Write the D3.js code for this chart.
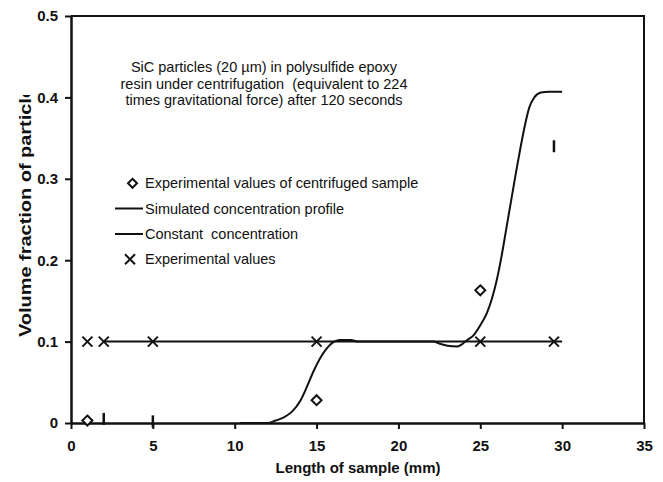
<!DOCTYPE html>
<html><head><meta charset="utf-8">
<script src="https://cdn.jsdelivr.net/npm/d3@7"></script>
<style>
body{margin:0;background:#fff}
svg{display:block}
text{font-family:"Liberation Sans",Arial,Helvetica,sans-serif;fill:#111}
</style>
</head><body>
<svg id="chart" width="663" height="482"></svg>
<script>
// ---- data ----
const xTickValues = [0, 5, 10, 15, 20, 25, 30, 35];
const yTickValues = [0, 0.1, 0.2, 0.3, 0.4, 0.5];
const yTickLabels = ["0", "0.1", "0.2", "0.3", "0.4", "0.5"];

const centrifugedX = [1, 15, 25];
const centrifugedY = [0.003, 0.028, 0.163];

const simulatedX = [10.3, 12.0, 12.5, 13.0, 13.5, 14.0, 14.4, 14.8, 15.2, 15.6, 16.0, 16.4, 17.1, 17.5, 22.1, 22.6, 23.0, 23.6, 23.9, 24.2, 24.6, 25.0, 25.4, 25.7, 26.0, 26.3, 26.6, 26.9, 27.2, 27.5, 27.75, 28.0, 28.3, 28.7, 29.2, 30.0];
const simulatedY = [0.0, 0.0, 0.003, 0.007, 0.014, 0.027, 0.044, 0.063, 0.079, 0.091, 0.099, 0.102, 0.102, 0.1, 0.1, 0.097, 0.095, 0.094, 0.097, 0.102, 0.108, 0.12, 0.135, 0.152, 0.175, 0.205, 0.24, 0.275, 0.31, 0.343, 0.368, 0.388, 0.4, 0.406, 0.407, 0.407];

const constantX = [2, 30];
const constantY = [0.1, 0.1];

const experimentalX = [1, 2, 5, 15, 25, 29.5];
const experimentalY = [0.1, 0.1, 0.1, 0.1, 0.1, 0.1];

const barX = [2, 5, 29.5];
const barY = [0.005, 0.002, 0.34];

const legendLabels = [
  "Experimental values of centrifuged sample",
  "Simulated concentration profile",
  "Constant  concentration",
  "Experimental values"
];
const annotationLines = [
  "SiC particles (20 \u00b5m) in polysulfide epoxy",
  "resin under centrifugation  (equivalent to 224",
  "times gravitational force) after 120 seconds"
];
const xTitle = "Length of sample (mm)";
const yTitle = "Volume fraction of particle";

// ---- chart ----
const ink = "#111";
const svg = d3.select("#chart");
const x = d3.scaleLinear().domain([0, 35]).range([71, 644]);
const y = d3.scaleLinear().domain([0, 0.5]).range([423, 16]);

// frame (top and right)
svg.append("path")
  .attr("d", `M${x(0)},${y(0.5)}H${x(35)}V${y(0)}`)
  .attr("fill", "none").attr("stroke", ink).attr("stroke-width", 2);

// axes
const xAxis = svg.append("g").attr("transform", `translate(0,${y(0)})`)
  .call(d3.axisBottom(x).tickValues(xTickValues).tickSize(6).tickSizeOuter(0).tickPadding(11).tickFormat(d => String(d)));
const yAxis = svg.append("g").attr("transform", `translate(${x(0)},0)`)
  .call(d3.axisLeft(y).tickValues(yTickValues).tickSize(6).tickSizeOuter(0).tickPadding(7).tickFormat((d, i) => yTickLabels[i]));
[xAxis, yAxis].forEach(g => {
  g.select(".domain").attr("stroke", ink).attr("stroke-width", 2.5);
  g.selectAll(".tick line").attr("stroke", ink).attr("stroke-width", 2);
  g.selectAll(".tick text").attr("fill", ink).style("font-size", "15px").style("font-weight", "bold")
    .style("font-family", '"Liberation Sans",Arial,sans-serif');
});

// constant concentration line
const line = d3.line().x(d => x(d[0])).y(d => y(d[1]));
svg.append("path").datum(constantX.map((v, i) => [v, constantY[i]]))
  .attr("d", line).attr("fill", "none").attr("stroke", ink).attr("stroke-width", 2);

// simulated profile
const curve = d3.line().x(d => x(d[0])).y(d => y(d[1])).curve(d3.curveMonotoneX);
svg.append("path").datum(simulatedX.map((v, i) => [v, simulatedY[i]]))
  .attr("d", curve).attr("fill", "none").attr("stroke", ink).attr("stroke-width", 2)
  .attr("stroke-linejoin", "round");

// markers
function drawX(g, cx, cy, r) {
  g.append("path").attr("d", `M${cx - r},${cy - r}L${cx + r},${cy + r}M${cx - r},${cy + r}L${cx + r},${cy - r}`)
    .attr("stroke", ink).attr("stroke-width", 2).attr("fill", "none");
}
function drawDiamond(g, cx, cy, r) {
  g.append("path").attr("d", `M${cx},${cy - r}L${cx + r},${cy}L${cx},${cy + r}L${cx - r},${cy}Z`)
    .attr("stroke", ink).attr("stroke-width", 2).attr("fill", "#fff");
}
const mk = svg.append("g");
experimentalX.forEach((v, i) => drawX(mk, x(v), y(experimentalY[i]), 5));
centrifugedX.forEach((v, i) => drawDiamond(mk, x(v), y(centrifugedY[i]), 5));
barX.forEach((v, i) => {
  mk.append("line").attr("x1", x(v)).attr("x2", x(v))
    .attr("y1", y(barY[i]) - 6).attr("y2", y(barY[i]) + 6)
    .attr("stroke", ink).attr("stroke-width", 2.5);
});

// annotation
const ann = svg.append("text").attr("text-anchor", "middle").style("font-size", "14.5px").attr("xml:space", "preserve").style("white-space", "pre");
annotationLines.forEach((t, i) => {
  ann.append("tspan").attr("x", 264).attr("y", 72 + i * 16.7).text(t);
});

// legend
const lg = svg.append("g");
const rowY = [183.3, 208.5, 234, 259.3];
drawDiamond(lg, 132.5, rowY[0], 4.5);
lg.append("line").attr("x1", 115).attr("x2", 143).attr("y1", rowY[1]).attr("y2", rowY[1]).attr("stroke", ink).attr("stroke-width", 2);
lg.append("line").attr("x1", 115).attr("x2", 143).attr("y1", rowY[2]).attr("y2", rowY[2]).attr("stroke", ink).attr("stroke-width", 2);
drawX(lg, 130, rowY[3], 5);
legendLabels.forEach((t, i) => {
  lg.append("text").attr("x", 145).attr("y", rowY[i] + 5).style("font-size", "14.5px")
    .style("white-space", "pre").attr("xml:space", "preserve").text(t);
});

// axis titles
svg.append("text").attr("x", 358).attr("y", 473).attr("text-anchor", "middle")
  .style("font-size", "15px").style("font-weight", "bold").text(xTitle);

svg.append("clipPath").attr("id", "yclip").append("rect").attr("x", 0).attr("y", 95).attr("width", 70).attr("height", 387);
svg.append("g").attr("clip-path", "url(#yclip)")
  .append("text").attr("transform", "translate(31,337) rotate(-90)")
  .attr("x", 0).attr("y", 0).attr("text-anchor", "start")
  .attr("textLength", 250).attr("lengthAdjust", "spacingAndGlyphs")
  .style("font-size", "16px").style("font-weight", "bold").text(yTitle);
</script>
</body></html>
